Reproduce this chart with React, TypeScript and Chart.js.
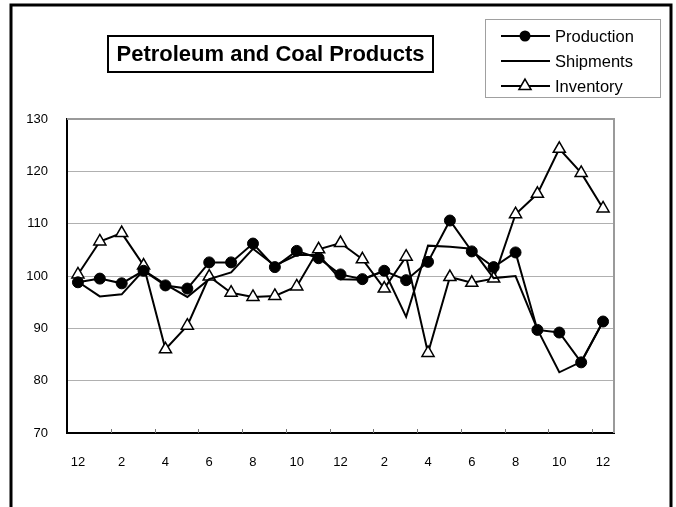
import React, { useEffect, useRef } from 'react';
import { Chart, registerables } from 'chart.js';

Chart.register(...registerables);

const categories = ['12', '1', '2', '3', '4', '5', '6', '7', '8', '9', '10', '11', '12', '1', '2', '3', '4', '5', '6', '7', '8', '9', '10', '11', '12'];
const production = [98.8, 99.5, 98.6, 101.0, 98.2, 97.6, 102.6, 102.6, 106.2, 101.7, 104.8, 103.4, 100.3, 99.4, 101.0, 99.2, 102.7, 110.6, 104.7, 101.7, 104.5, 89.7, 89.2, 83.5, 91.3];
const shipments = [98.9, 96.1, 96.5, 101.1, 98.4, 96.0, 99.4, 100.7, 105.2, 102.0, 104.0, 104.0, 99.4, 99.3, 101.0, 92.2, 105.8, 105.6, 105.2, 99.6, 100.0, 89.8, 81.6, 83.6, 91.3];
const inventory = [100.3, 106.6, 108.2, 102.0, 86.0, 90.5, 99.9, 96.8, 96.0, 96.2, 98.0, 105.1, 106.3, 103.2, 97.6, 103.7, 85.3, 99.8, 98.7, 99.5, 111.8, 115.7, 124.3, 119.7, 112.9];
const seriesNames = ['Production', 'Shipments', 'Inventory'];
const titleText = 'Petroleum and Coal Products';
const yMin = 70;
const yMax = 130;
const yStep = 10;

const FONT = '"Liberation Sans", Arial, sans-serif';

const decor = {
  id: 'decor',
  beforeDraw(chart: any) {
    const { ctx, width, height } = chart;
    ctx.save();
    ctx.fillStyle = '#fff';
    ctx.fillRect(0, 0, width, height);
    ctx.restore();
  },
  beforeDatasetsDraw(chart: any) {
    const { ctx, chartArea } = chart;
    const x = chart.scales.x;
    ctx.save();
    ctx.strokeStyle = '#9a9a9a';
    ctx.lineWidth = 2;
    ctx.beginPath();
    ctx.moveTo(chartArea.left, chartArea.top);
    ctx.lineTo(chartArea.right, chartArea.top);
    ctx.lineTo(chartArea.right, chartArea.bottom);
    ctx.stroke();
    ctx.strokeStyle = '#777';
    ctx.lineWidth = 1;
    for (let i = 1; i < categories.length - 1; i += 2) {
      const px = Math.round((x.getPixelForValue(i) + x.getPixelForValue(i + 1)) / 2) + 0.5;
      ctx.beginPath();
      ctx.moveTo(px, chartArea.bottom);
      ctx.lineTo(px, chartArea.bottom - 4);
      ctx.stroke();
    }
    ctx.restore();
  },
  afterDraw(chart: any) {
    const { ctx, width, height } = chart;
    ctx.save();
    ctx.strokeStyle = '#000';
    ctx.lineWidth = 3;
    ctx.beginPath();
    ctx.moveTo(11, height);
    ctx.lineTo(11, 5);
    ctx.lineTo(width - 5, 5);
    ctx.lineTo(width - 5, height);
    ctx.stroke();

    ctx.lineWidth = 2;
    ctx.strokeRect(108, 36, 325, 36);
    ctx.fillStyle = '#000';
    ctx.font = `bold 22px ${FONT}`;
    ctx.textAlign = 'center';
    ctx.textBaseline = 'middle';
    ctx.fillText(titleText, 270.5, 55);

    ctx.strokeStyle = '#a0a0a0';
    ctx.lineWidth = 1;
    ctx.strokeRect(485.5, 19.5, 175, 78);
    const rows = [36, 61, 86];
    chart.data.datasets.forEach((ds: any, i: number) => {
      const y = rows[i];
      ctx.strokeStyle = '#000';
      ctx.lineWidth = 2;
      ctx.beginPath();
      ctx.moveTo(501, y);
      ctx.lineTo(550, y);
      ctx.stroke();
      if (ds.pointRadius > 0) {
        const cx = 525;
        if (ds.pointStyle === 'circle') {
          ctx.fillStyle = '#000';
          ctx.beginPath();
          ctx.arc(cx, y, ds.pointRadius, 0, Math.PI * 2);
          ctx.fill();
        } else if (ds.pointStyle === 'triangle') {
          const r = ds.pointRadius;
          ctx.fillStyle = '#fff';
          ctx.lineWidth = ds.pointBorderWidth;
          ctx.beginPath();
          ctx.moveTo(cx, y - r);
          ctx.lineTo(cx + r * Math.sin(Math.PI / 3), y + r / 2);
          ctx.lineTo(cx - r * Math.sin(Math.PI / 3), y + r / 2);
          ctx.closePath();
          ctx.fill();
          ctx.stroke();
        }
      }
      ctx.fillStyle = '#000';
      ctx.font = `16.5px ${FONT}`;
      ctx.textAlign = 'left';
      ctx.textBaseline = 'middle';
      ctx.fillText(ds.label, 555, y + 1);
    });
    ctx.restore();
  },
};

export default function App() {
  const ref = useRef<HTMLCanvasElement | null>(null);
  useEffect(() => {
    if (!ref.current) return;
    const chart = new Chart(ref.current, {
      type: 'line',
      data: {
        labels: categories,
        datasets: [
          {
            label: seriesNames[0],
            data: production,
            borderColor: '#000',
            borderWidth: 2,
            pointStyle: 'circle',
            pointRadius: 5.5,
            pointBackgroundColor: '#000',
            pointBorderColor: '#000',
            pointBorderWidth: 1,
            tension: 0,
          },
          {
            label: seriesNames[1],
            data: shipments,
            borderColor: '#000',
            borderWidth: 2,
            pointRadius: 0,
            tension: 0,
          },
          {
            label: seriesNames[2],
            data: inventory,
            borderColor: '#000',
            borderWidth: 2,
            pointStyle: 'triangle',
            pointRadius: 7,
            pointBackgroundColor: '#fff',
            pointBorderColor: '#000',
            pointBorderWidth: 1.5,
            tension: 0,
          },
        ],
      },
      options: {
        responsive: false,
        animation: false,
        devicePixelRatio: 1,
        layout: { padding: { left: 0, top: 119, right: 62, bottom: 0 } },
        plugins: { legend: { display: false }, title: { display: false }, tooltip: { enabled: false } },
        scales: {
          x: {
            type: 'category',
            offset: true,
            grid: { display: false, drawTicks: false },
            border: { display: true, color: '#000', width: 2 },
            ticks: {
              autoSkip: false,
              maxRotation: 0,
              padding: 22,
              color: '#000',
              font: { family: FONT, size: 13 },
              callback: (_v: any, i: number) => (i % 2 === 0 ? categories[i] : ''),
            },
            afterFit: (s: any) => { s.height = 74; },
          },
          y: {
            min: yMin,
            max: yMax,
            ticks: { stepSize: yStep, padding: 19, color: '#000', font: { family: FONT, size: 13 } },
            grid: { color: '#b0b0b0', lineWidth: 1, drawTicks: false },
            border: { display: true, color: '#000', width: 2 },
            afterFit: (s: any) => { s.width = 67; },
          },
        },
      },
      plugins: [decor],
    });
    return () => chart.destroy();
  }, []);
  return (
    <div style={{ position: 'absolute', left: 0, top: 0, width: 676, height: 507 }}>
      <canvas ref={ref} width={676} height={507} style={{ width: 676, height: 507, display: 'block' }} />
    </div>
  );
}
